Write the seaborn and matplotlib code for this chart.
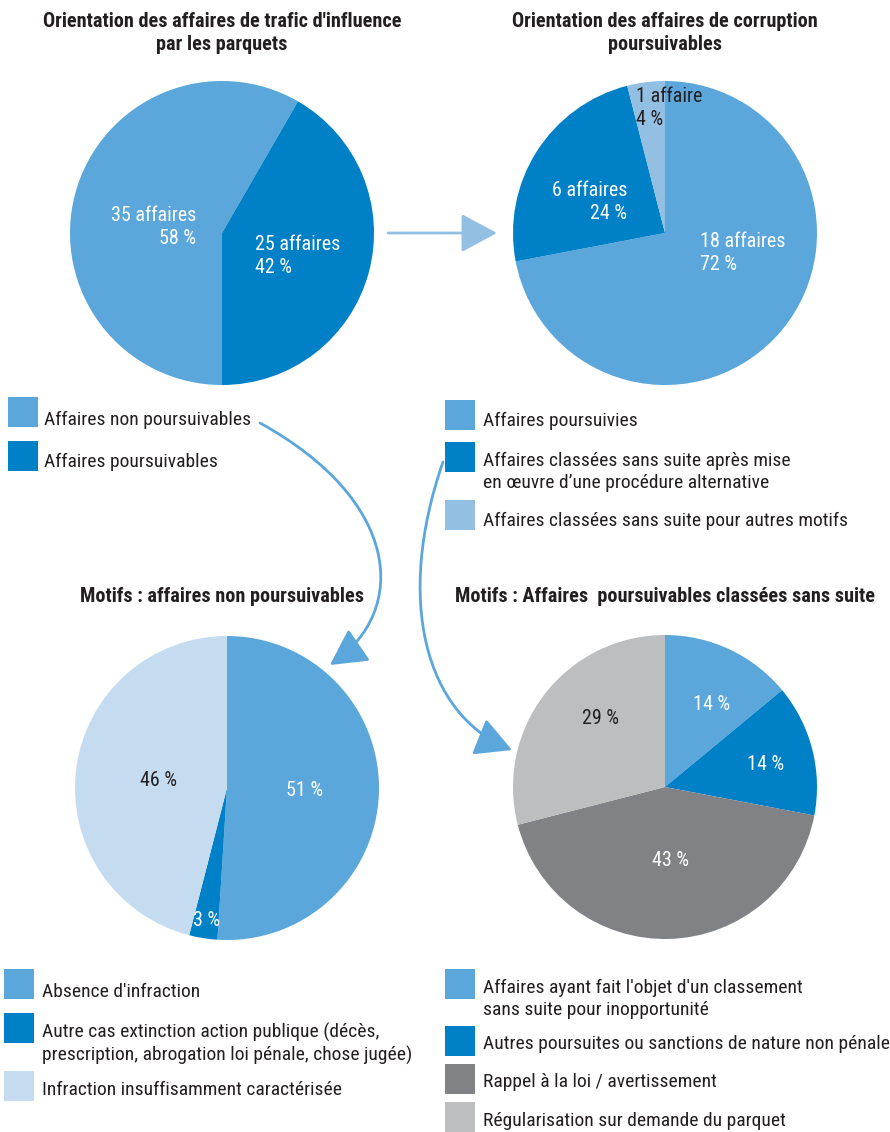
import matplotlib
matplotlib.use("Agg")
import matplotlib.pyplot as plt
import seaborn as sns
from matplotlib import font_manager
from matplotlib.patches import Rectangle, FancyArrowPatch
from matplotlib.path import Path

sns.set_theme(style="white")

# prefer a narrow sans-serif if one is installed
_installed = {f.name for f in font_manager.fontManager.ttflist}
_narrow = [n for n in ("Liberation Sans Narrow", "Roboto Condensed", "Open Sans Condensed")
           if n in _installed]
FAMILY = _narrow[0] if _narrow else "Liberation Sans"
NARROW = bool(_narrow)
plt.rcParams['font.family'] = [FAMILY, 'DejaVu Sans']

W, H = 890, 1132
DARK = "#231F20"

# Colours
C_LIGHT = "#5BA7DC"
C_DARK = "#0080C6"
C_SOFT = "#93BFE3"
C_PALE = "#C5DCF0"
C_GREY = "#808285"
C_LGREY = "#BCBEC0"

# --- data ---
trafic_labels = ["Affaires non poursuivables", "Affaires poursuivables"]
trafic_counts = [35, 25]
trafic_pct = [58, 42]

corruption_labels = ["Affaires poursuivies",
                     "Affaires classées sans suite après mise\nen œuvre d\u2019une procédure alternative",
                     "Affaires classées sans suite pour autres motifs"]
corruption_counts = [18, 6, 1]
corruption_pct = [72, 24, 4]

motifs_np_labels = ["Absence d'infraction",
                    "Autre cas extinction action publique (décès,\nprescription, abrogation loi pénale, chose jugée)",
                    "Infraction insuffisamment caractérisée"]
motifs_np_pct = [51, 3, 46]

motifs_css_labels = ["Affaires ayant fait l'objet d'un classement\nsans suite pour inopportunité",
                     "Autres poursuites ou sanctions de nature non pénale",
                     "Rappel à la loi / avertissement",
                     "Régularisation sur demande du parquet"]
motifs_css_pct = [14, 14, 43, 29]

fig = plt.figure(figsize=(W / 100, H / 100), dpi=100)

# overlay axis in pixel coordinates (y downward)
ov = fig.add_axes([0, 0, 1, 1], zorder=0)
ov.set_xlim(0, W)
ov.set_ylim(H, 0)
ov.axis("off")


def pie_axes(cx, cy, r):
    return fig.add_axes([(cx - r) / W, 1 - (cy + r) / H, 2 * r / W, 2 * r / H], zorder=1)


def finish(ax):
    ax.set_xlim(-1, 1)
    ax.set_ylim(-1, 1)
    ax.set_aspect("equal")
    ax.axis("off")


FS = 14.0 if NARROW else 12.8
TFS = 14.6 if NARROW else 12.6

# pie 1
ax1 = pie_axes(222, 233, 152)
ax1.pie(trafic_counts, colors=[C_LIGHT, C_DARK], startangle=-90, counterclock=False,
        radius=1, wedgeprops=dict(linewidth=0))
finish(ax1)
# pie 2
ax2 = pie_axes(665, 233, 152)
ax2.pie(corruption_counts, colors=[C_LIGHT, C_DARK, C_SOFT], startangle=90, counterclock=False,
        radius=1, wedgeprops=dict(linewidth=0))
finish(ax2)
# pie 3
ax3 = pie_axes(227, 788, 152)
ax3.pie(motifs_np_pct, colors=[C_LIGHT, C_DARK, C_PALE], startangle=90, counterclock=False,
        radius=1, wedgeprops=dict(linewidth=0))
finish(ax3)
# pie 4
ax4 = pie_axes(665, 787, 152)
ax4.pie(motifs_css_pct, colors=[C_LIGHT, C_DARK, C_GREY, C_LGREY], startangle=90, counterclock=False,
        radius=1, wedgeprops=dict(linewidth=0))
finish(ax4)

# slice labels (overlay on top of pies)
lab = fig.add_axes([0, 0, 1, 1], zorder=3)
lab.set_xlim(0, W)
lab.set_ylim(H, 0)
lab.axis("off")


def slice_text(x, y, s, color="white", ha="left"):
    lab.text(x, y, s, color=color, ha=ha, va="center", fontsize=FS + 0.4, linespacing=1.3,
             multialignment=ha)


slice_text(196, 227, f"{trafic_counts[0]} affaires\n{trafic_pct[0]} %", ha="right")
slice_text(255, 256, f"{trafic_counts[1]} affaires\n{trafic_pct[1]} %")
slice_text(636, 108, f"{corruption_counts[2]} affaire\n{corruption_pct[2]} %", color=DARK)
slice_text(627, 202, f"{corruption_counts[1]} affaires\n{corruption_pct[1]} %", ha="right")
slice_text(700, 253, f"{corruption_counts[0]} affaires\n{corruption_pct[0]} %")
slice_text(158, 780, f"{motifs_np_pct[2]} %", color=DARK, ha="center")
slice_text(305, 791, f"{motifs_np_pct[0]} %", ha="center")
slice_text(207, 920, f"{motifs_np_pct[1]} %", ha="center")
slice_text(600, 718, f"{motifs_css_pct[3]} %", color=DARK, ha="center")
slice_text(712, 705, f"{motifs_css_pct[0]} %", ha="center")
slice_text(766, 765, f"{motifs_css_pct[1]} %", ha="center")
slice_text(670, 860, f"{motifs_css_pct[2]} %", ha="center")

# titles
ov.text(222, 33, "Orientation des affaires de trafic d'influence\npar les parquets", ha="center",
        va="center", fontsize=TFS, color=DARK, fontweight="bold", linespacing=1.3)
ov.text(665, 33, "Orientation des affaires de corruption\npoursuivables", ha="center",
        va="center", fontsize=TFS, color=DARK, fontweight="bold", linespacing=1.3)
ov.text(222, 597, "Motifs : affaires non poursuivables", ha="center", va="center",
        fontsize=TFS, color=DARK, fontweight="bold")
ov.text(665, 597, "Motifs : Affaires  poursuivables classées sans suite", ha="center",
        va="center", fontsize=TFS, color=DARK, fontweight="bold")


# legends
def legend(x_sq, x_txt, entries):
    for (y_sq, y_txt, color, text) in entries:
        ov.add_patch(Rectangle((x_sq, y_sq), 30, 30, color=color, lw=0))
        ov.text(x_txt, y_txt, text, ha="left", va="center", fontsize=FS, color=DARK,
                linespacing=1.3)


legend(8, 44, [(397, 420, C_LIGHT, trafic_labels[0]),
               (441, 462, C_DARK, trafic_labels[1])])
legend(445, 483, [(400, 421, C_LIGHT, corruption_labels[0]),
                  (442, 472, C_DARK, corruption_labels[1]),
                  (500, 521, C_SOFT, corruption_labels[2])])
legend(4, 42, [(969, 992, C_LIGHT, motifs_np_labels[0]),
               (1013, 1044, C_DARK, motifs_np_labels[1]),
               (1071, 1090, C_PALE, motifs_np_labels[2])])
legend(445, 483, [(969, 999, C_LIGHT, motifs_css_labels[0]),
                  (1026, 1044, C_DARK, motifs_css_labels[1]),
                  (1064, 1082, C_GREY, motifs_css_labels[2]),
                  (1102, 1121, C_LGREY, motifs_css_labels[3])])

# arrows
arrow_style = "-|>,head_length=1.4,head_width=0.75"
a1 = FancyArrowPatch((388, 233), (497, 233), arrowstyle=arrow_style, mutation_scale=16,
                     color=C_SOFT, lw=2, shrinkA=0, shrinkB=0)
ov.add_patch(a1)

p2 = Path([(260, 423), (400, 500), (410, 610), (330, 665)],
          [Path.MOVETO, Path.CURVE4, Path.CURVE4, Path.CURVE4])
a2 = FancyArrowPatch(path=p2, arrowstyle=arrow_style, mutation_scale=16, color=C_LIGHT, lw=2)
ov.add_patch(a2)

p3 = Path([(443, 462), (395, 600), (425, 715), (512, 750)],
          [Path.MOVETO, Path.CURVE4, Path.CURVE4, Path.CURVE4])
a3 = FancyArrowPatch(path=p3, arrowstyle=arrow_style, mutation_scale=16, color=C_LIGHT, lw=2)
ov.add_patch(a3)

fig.savefig("out.png", dpi=100)
